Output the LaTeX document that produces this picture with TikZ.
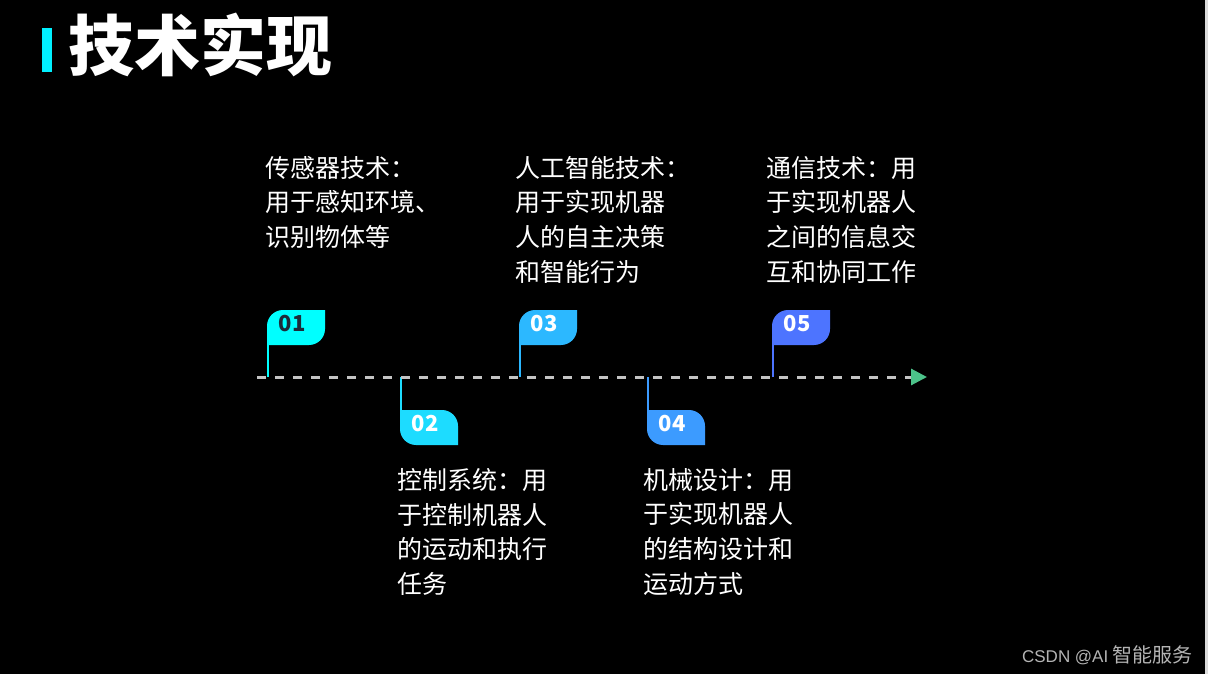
\documentclass[tikz,border=0pt]{standalone}
\usepackage{fontspec}
\setmainfont{Noto Sans CJK SC}
\newfontfamily\latinfont{Liberation Sans}
\usetikzlibrary{arrows.meta}

\definecolor{barCyan}{HTML}{00F0FF}
\definecolor{flagA}{HTML}{00FFFF}
\definecolor{flagB}{HTML}{1DDCFF}
\definecolor{flagC}{HTML}{2CB8FF}
\definecolor{flagD}{HTML}{3C9BFF}
\definecolor{flagE}{HTML}{4D74FF}
\definecolor{numDark}{HTML}{1D2B3A}
\definecolor{lineGray}{HTML}{C4C4C4}
\definecolor{arrowGreen}{HTML}{4CC38A}
\definecolor{wmGray}{HTML}{B4B4B4}
\definecolor{edgeGray}{HTML}{DCDCDC}

% flag above the line: left x, top y, colour, name, label, label colour
\newcommand{\upflag}[6]{%
  \fill[#3] (#1,#2+35) -- (#1,#2+16) .. controls (#1,#2+7.2) and (#1+7.2,#2) .. (#1+16,#2)
    -- (#1+58,#2) -- (#1+58,#2+19) .. controls (#1+58,#2+27.8) and (#1+50.8,#2+35) .. (#1+42,#2+35) -- cycle;
  \node[flagnum,text=#6] (#4) at (#1+25,#2+14) {#5};
  \coordinate (#4_foot) at (#1+1,#2+35);
}
% flag below the line
\newcommand{\downflag}[6]{%
  \fill[#3] (#1,#2) -- (#1+42,#2) .. controls (#1+50.8,#2) and (#1+58,#2+7.2) .. (#1+58,#2+16)
    -- (#1+58,#2+35) -- (#1+16,#2+35) .. controls (#1+7.2,#2+35) and (#1,#2+27.8) .. (#1,#2+19) -- cycle;
  \node[flagnum,text=#6] (#4) at (#1+25,#2+14) {#5};
  \coordinate (#4_foot) at (#1+1,#2);
}

\begin{document}
\begin{tikzpicture}[x=1pt,y=-1pt]
\tikzset{
  desc/.style={anchor=north west,align=left,inner sep=0pt,text=white,font=\fontsize{25pt}{34.7pt}\selectfont},
  flagnum/.style={inner sep=0pt,font=\bfseries\fontsize{22pt}{22pt}\selectfont},
  pole/.style={line width=2pt},
  timeline/.style={draw=lineGray,line width=3pt,dash pattern=on 9pt off 9pt,
    -{Triangle[length=16pt,width=16pt,color=arrowGreen]}}
}
\useasboundingbox (0,0) rectangle (1208,674);
\fill[black] (0,0) rectangle (1208,674);
\fill[edgeGray] (1205,0) rectangle (1208,674);

% title
\fill[barCyan] (42,28) rectangle (52,72);
\node[anchor=west,inner sep=0pt,text=white,font=\bfseries\fontsize{66pt}{66pt}\selectfont] (title) at (68,45) {技术实现};

% timeline
\coordinate (tl_start) at (257,377);
\coordinate (tl_end) at (927,377);
\coordinate (t_01) at (268,377);
\coordinate (t_02) at (401,377);
\coordinate (t_03) at (520,377);
\coordinate (t_04) at (648,377);
\coordinate (t_05) at (773,377);

\upflag{267}{310}{flagA}{n_01}{01}{numDark}
\downflag{400}{410}{flagB}{n_02}{02}{white}
\upflag{519}{310}{flagC}{n_03}{03}{white}
\downflag{647}{410}{flagD}{n_04}{04}{white}
\upflag{772}{310}{flagE}{n_05}{05}{white}

\draw[pole,flagA] (n_01_foot) -- (t_01);
\draw[pole,flagB] (n_02_foot) -- (t_02);
\draw[pole,flagC] (n_03_foot) -- (t_03);
\draw[pole,flagD] (n_04_foot) -- (t_04);
\draw[pole,flagE] (n_05_foot) -- (t_05);
\draw[timeline] (tl_start) -- (tl_end);

% descriptions
\node[desc] (d_01) at (265,156) {传感器技术：\\用于感知环境、\\识别物体等};
\node[desc] (d_03) at (515,156) {人工智能技术：\\用于实现机器\\人的自主决策\\和智能行为};
\node[desc] (d_05) at (766,156) {通信技术：用\\于实现机器人\\之间的信息交\\互和协同工作};
\node[desc] (d_02) at (397,468) {控制系统：用\\于控制机器人\\的运动和执行\\任务};
\node[desc] (d_04) at (643,468) {机械设计：用\\于实现机器人\\的结构设计和\\运动方式};

% watermark
\node[anchor=east,inner sep=0pt,text=wmGray,font=\fontsize{20pt}{20pt}\selectfont] (watermark) at (1193,655)
  {{\latinfont\fontsize{17pt}{17pt}\selectfont CSDN @AI} 智能服务};
\end{tikzpicture}
\end{document}
